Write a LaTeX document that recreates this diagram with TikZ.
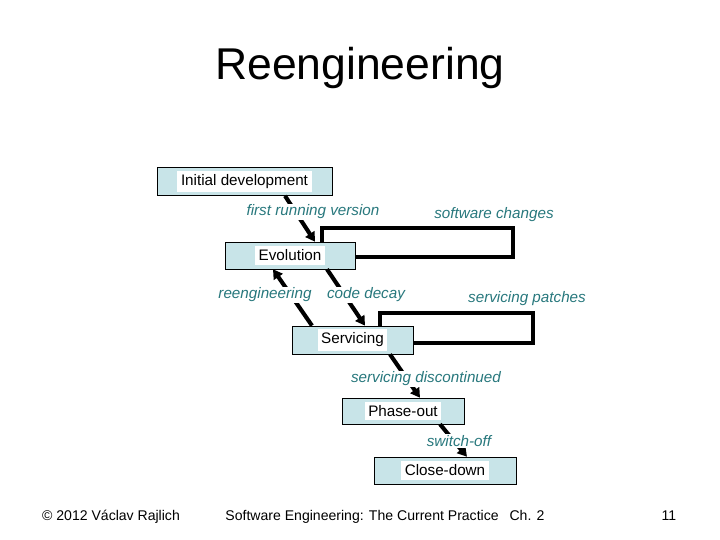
\documentclass[tikz,border=0pt]{standalone}
\usepackage{fontspec}
\setmainfont{Liberation Sans}
\usetikzlibrary{arrows.meta}
\definecolor{boxblue}{RGB}{200,228,232}
\definecolor{labteal}{RGB}{40,120,125}
\newcommand{\bodysize}{\fontsize{13}{15}\selectfont}
\tikzset{
  stage/.style={draw,fill=boxblue,rectangle,inner sep=3pt,font=\bodysize},
  lab/.style={fill=white,text=labteal,font=\bodysize\itshape,inner sep=1pt},
  flow/.style={line width=3.5pt,-{Triangle[length=8pt,width=9pt]}},
  loop/.style={line width=3.5pt},
  foot/.style={font=\fontsize{12}{14}\selectfont,anchor=base}
}
\begin{document}
\begin{tikzpicture}[x=0.03cm,y=-0.03cm]
  \useasboundingbox (0,0) rectangle (720,540);
  \node[font=\fontsize{38}{44}\selectfont] (title) at (360,68) {Reengineering};

  % stages
  \node[stage,minimum width=175*0.03cm,minimum height=27*0.03cm] (init) at (244.5,181.5) {\colorbox{white}{Initial development}};
  \node[stage,minimum width=130*0.03cm,minimum height=27*0.03cm] (evo) at (290,255.5) {\colorbox{white}{Evolution}};
  \node[stage,minimum width=121*0.03cm,minimum height=28*0.03cm] (serv) at (352.5,340) {\colorbox{white}{Servicing}};
  \node[stage,minimum width=122*0.03cm,minimum height=26*0.03cm] (phase) at (403,411) {\colorbox{white}{Phase-out}};
  \node[stage,minimum width=142*0.03cm,minimum height=27*0.03cm] (close) at (445,470.5) {\colorbox{white}{Close-down}};

  % transitions
  \draw[flow] (init.south -| 285,0) -- (evo.north -| 315,0);
  \draw[flow] (evo.south -| 327,0) -- (serv.north -| 365,0);
  \draw[flow] (serv.north -| 312,0) -- (evo.south -| 273,0);
  \draw[flow] (serv.south -| 390,0) -- (phase.north -| 420,0);
  \draw[flow] (phase.south -| 440,0) -- (close.north -| 467,0);

  % loops
  \coordinate (sc1) at (322,228);
  \coordinate (sc2) at (513,228);
  \coordinate (sc3) at (513,257);
  \draw[loop] (evo.north -| sc1) -- (sc1) -- (sc2) -- (sc3) -- (evo.east |- sc3);
  \coordinate (sp1) at (380,313);
  \coordinate (sp2) at (533,313);
  \coordinate (sp3) at (533,343);
  \draw[loop] (serv.north -| sp1) -- (sp1) -- (sp2) -- (sp3) -- (serv.east |- sp3);

  % labels
  \node[lab] (l1) at (313,212) {first running version};
  \node[text=labteal,font=\bodysize\itshape] (l2) at (494,215) {software changes};
  \node[lab] (l3) at (265,295) {reengineering};
  \node[lab] (l4) at (366,295) {code decay};
  \node[text=labteal,font=\bodysize\itshape] (l5) at (527,299) {servicing patches};
  \node[lab] (l6) at (426,379) {servicing discontinued};
  \node[lab] (l7) at (459,441) {switch-off};

  % footer
  \node[foot] (f1) at (111,520) {\textcopyright{} 2012 Václav Rajlich};
  \node[foot] (f2) at (385,520) {Software Engineering: The Current Practice \enspace Ch. 2};
  \node[foot] (f3) at (669,520) {11};
\end{tikzpicture}
\end{document}
